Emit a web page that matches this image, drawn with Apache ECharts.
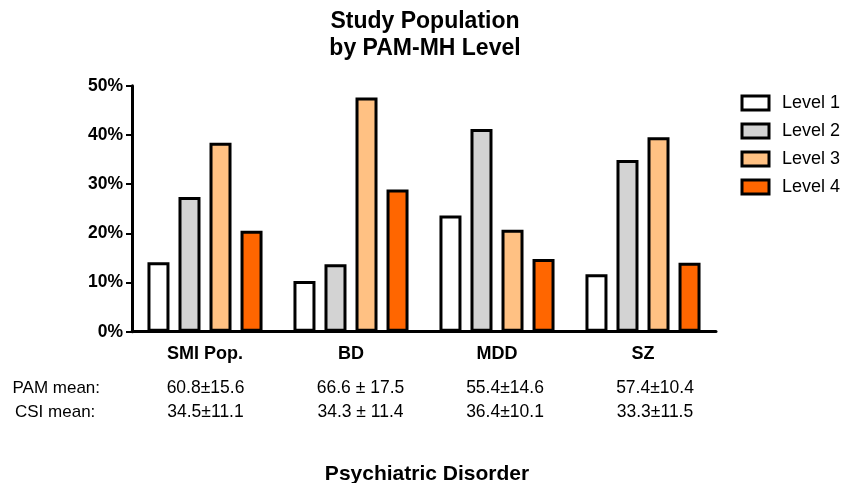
<!DOCTYPE html>
<html>
<head>
<meta charset="utf-8">
<style>
html,body{margin:0;padding:0;background:#fff;}
#chart{width:845px;height:483px;}
</style>
<script src="https://cdn.jsdelivr.net/npm/echarts@6/dist/echarts.min.js"></script>
</head>
<body>
<div id="chart"></div>
<script>
var categories = ['SMI Pop.', 'BD', 'MDD', 'SZ'];
var seriesNames = ['Level 1', 'Level 2', 'Level 3', 'Level 4'];
var level1 = [14.1, 10.3, 23.6, 11.7];
var level2 = [27.4, 13.7, 41.2, 34.9];
var level3 = [38.4, 47.6, 20.7, 39.5];
var level4 = [20.5, 28.9, 14.8, 14.0];
var yTicks = [0, 10, 20, 30, 40, 50];
var pamMean = ['60.8\u00b115.6', '66.6 \u00b1 17.5', '55.4\u00b114.6', '57.4\u00b110.4'];
var csiMean = ['34.5\u00b111.1', '34.3 \u00b1 11.4', '36.4\u00b110.1', '33.3\u00b111.5'];

var colors = ['#ffffff', '#d3d3d3', '#ffc183', '#ff6600'];
var allData = [level1, level2, level3, level4];
var FONT = 'Liberation Sans, Arial, sans-serif';

var chart = echarts.init(document.getElementById('chart'));

var series = allData.map(function (d, i) {
  return {
    name: seriesNames[i],
    type: 'bar',
    data: d,
    barWidth: 22,
    barGap: '41%',
    itemStyle: { color: colors[i], borderColor: '#000', borderWidth: 3 },
    emphasis: { disabled: true },
    animation: false
  };
});

var textX = [205.5, 360.5, 505, 655];
var graphics = [
  { type: 'text', x: 12.5, y: 388.5, style: { text: 'PAM mean:', font: '17px ' + FONT, fill: '#000', textVerticalAlign: 'middle' } },
  { type: 'text', x: 15, y: 412, style: { text: 'CSI mean:', font: '17px ' + FONT, fill: '#000', textVerticalAlign: 'middle' } },
  { type: 'text', x: 427, y: 474, style: { text: 'Psychiatric Disorder', font: 'bold 21px ' + FONT, fill: '#000', textAlign: 'center', textVerticalAlign: 'middle' } }
];
categories.forEach(function (c, i) {
  graphics.push({ type: 'text', x: textX[i], y: 388.5, style: { text: pamMean[i], font: '17.5px ' + FONT, fill: '#000', textAlign: 'center', textVerticalAlign: 'middle' } });
  graphics.push({ type: 'text', x: textX[i], y: 412, style: { text: csiMean[i], font: '17.5px ' + FONT, fill: '#000', textAlign: 'center', textVerticalAlign: 'middle' } });
});

chart.setOption({
  animation: false,
  backgroundColor: '#fff',
  title: {
    text: 'Study Population\nby PAM-MH Level',
    left: 425,
    top: 7.5,
    padding: 0,
    textAlign: 'center',
    textStyle: { fontFamily: FONT, fontWeight: 'bold', fontSize: 23, lineHeight: 27.5, color: '#000' }
  },
  legend: {
    orient: 'vertical',
    align: 'left',
    left: 740.5,
    top: 94,
    width: 104,
    padding: 0,
    itemWidth: 27,
    itemHeight: 14,
    itemGap: 10,
    itemTextGap: 14,
    icon: 'rect',
    data: seriesNames,
    itemStyle: { borderColor: '#000', borderWidth: 3 },
    textStyle: { fontFamily: FONT, fontSize: 18, color: '#000', padding: [0, 0, 0, 8] },
    selectedMode: false
  },
  grid: { left: 132, right: 129, top: 85.7, bottom: 151.3, containLabel: false },
  xAxis: {
    type: 'category',
    data: categories,
    axisLine: { lineStyle: { color: '#000', width: 3 } },
    axisTick: { alignWithLabel: true, length: 6, lineStyle: { color: '#000', width: 2 } },
    axisLabel: { margin: 13, color: '#000', fontFamily: FONT, fontWeight: 'bold', fontSize: 18 }
  },
  yAxis: {
    type: 'value',
    min: yTicks[0],
    max: yTicks[yTicks.length - 1],
    interval: 10,
    splitLine: { show: false },
    axisLine: { show: true, lineStyle: { color: '#000', width: 3 } },
    axisTick: { show: true, length: 6, lineStyle: { color: '#000', width: 2 } },
    axisLabel: { margin: 9, color: '#000', fontFamily: FONT, fontWeight: 'bold', fontSize: 17.5, formatter: '{value}%' }
  },
  graphic: graphics,
  series: series
});
</script>
</body>
</html>
